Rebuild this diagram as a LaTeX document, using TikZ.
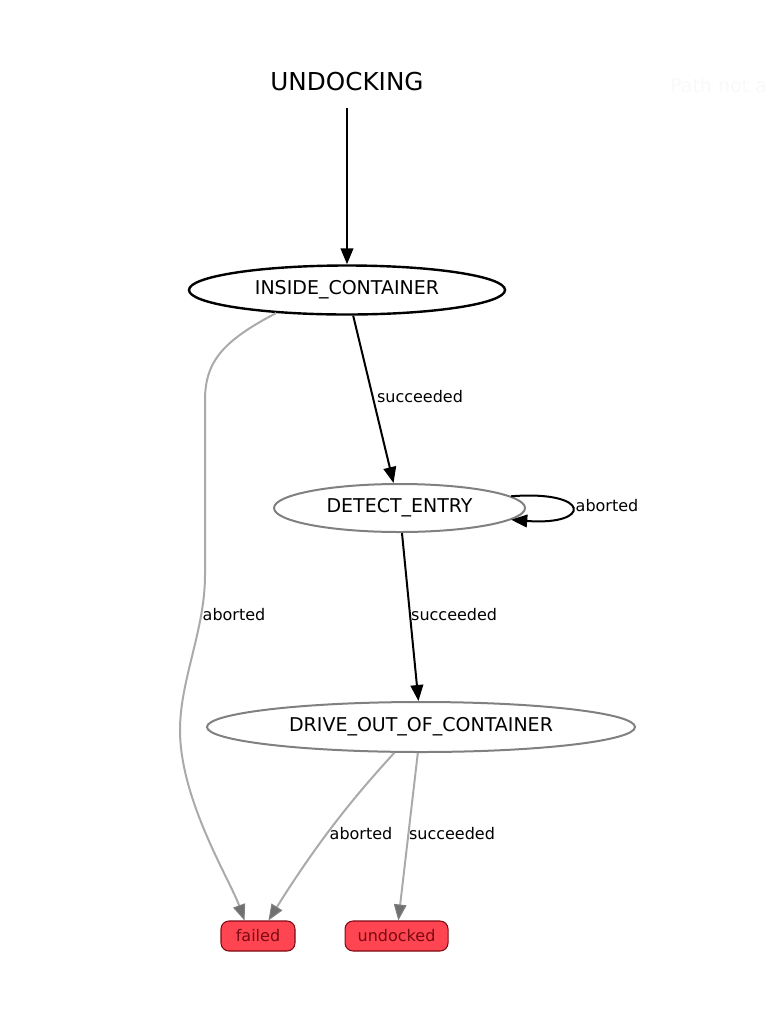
\documentclass[tikz,border=0pt]{standalone}
\usepackage{fontspec}
\setmainfont{DejaVu Sans}
\usepackage{tikz}
\usetikzlibrary{shapes,arrows.meta}
\definecolor{stategrey}{HTML}{808080}
\definecolor{edgegrey}{HTML}{AAAAAA}
\definecolor{tipgrey}{HTML}{707070}
\definecolor{outfill}{HTML}{FF4551}
\definecolor{outdraw}{HTML}{7F0A14}
\definecolor{outtext}{HTML}{7A0A14}
\definecolor{faint}{HTML}{F9F9F9}
\tikzstyle{title} = [inner sep=0pt, minimum height=39pt,
    font=\fontsize{18.5}{22}\selectfont]
\tikzstyle{state} = [ellipse, draw=stategrey, line width=1.5pt, inner sep=0pt,
    font=\fontsize{14.25}{17}\selectfont]
\tikzstyle{active} = [state, draw=black, line width=1.8pt]
\tikzstyle{outcome} = [rectangle, draw=outdraw, fill=outfill, rounded corners=6pt,
    text=outtext, minimum height=22.5pt, inner sep=0pt, line width=0.8pt,
    font=\fontsize{12}{14}\selectfont]
\tikzstyle{line} = [draw, line width=1.5pt, -{Triangle[length=12pt,width=9.5pt]}]
\tikzstyle{greyline} = [draw=edgegrey, line width=1.5pt,
    -{Triangle[length=12pt,width=9.5pt,fill=tipgrey,color=stategrey,line width=0.8pt]}]
\tikzstyle{lbl} = [inner sep=0pt, font=\fontsize{12}{14}\selectfont]

\begin{document}
\begin{tikzpicture}[x=0.75pt, y=-0.75pt]
    \useasboundingbox (0,0) rectangle (773,1022);
    % Place nodes
    \node [title] (undock) at (347,82) {UNDOCKING};
    \node [active, below of=undock, node distance=156pt,
        minimum width=237pt, minimum height=36.75pt] (inside) {INSIDE\_CONTAINER};
    \node [state, below of=inside, node distance=163.5pt, xshift=39.4pt,
        minimum width=188.25pt, minimum height=36pt] (detect) {DETECT\_ENTRY};
    \node [state, below of=detect, node distance=164.25pt, xshift=16.1pt,
        minimum width=321pt, minimum height=37.5pt] (drive) {DRIVE\_OUT\_OF\_CONTAINER};
    \node [outcome, below of=drive, node distance=156.75pt, xshift=-122.25pt,
        minimum width=55.5pt] (failed) {failed};
    \node [outcome, right of=failed, node distance=103.9pt,
        minimum width=77.25pt] (undocked) {undocked};
    \node [anchor=west, text=faint, font=\fontsize{14.25}{17}\selectfont,
        inner sep=0pt] (note) at (670,85) {Path not a};
    % Draw edges
    \path [line] (undock) -- (inside);
    \path [line] (inside) -- node [lbl, right, xshift=2pt, yshift=2pt] {succeeded} (detect);
    \path [line] (detect) -- node [lbl, right, yshift=2pt] {succeeded} (drive);
    \path [line] (detect.6) .. controls (592,490) and (592,526) .. (detect.-6)
        node [lbl] at (607,506) {aborted};
%
    \path [greyline] (inside.198) .. controls (225,340) and (205,360) .. (205,400)
        -- (205,575) .. controls (205,630) and (180,680) .. (180,730)
        .. controls (180,800) and (230,880) .. (failed.131)
        node [lbl] at (234,615) {aborted};
    \path [greyline] (drive.224) .. controls (365,785) and (325,830) .. (failed.56)
        node [lbl] at (361,834) {aborted};
    \path [greyline] (drive.263) -- (undocked)
        node [lbl] at (452,834) {succeeded};

\end{tikzpicture}
\end{document}
